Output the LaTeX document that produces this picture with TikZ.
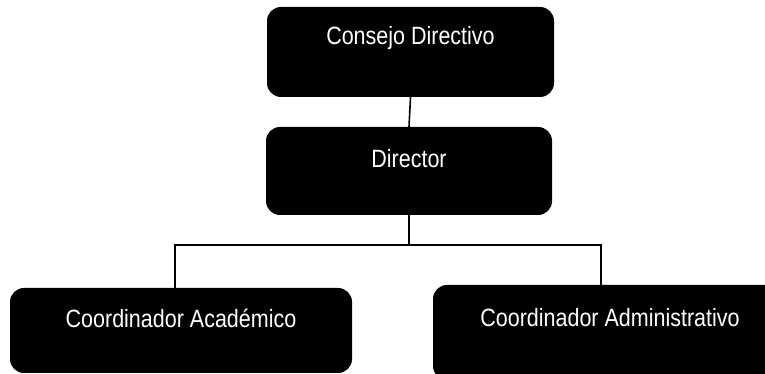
\documentclass[tikz,border=0pt]{standalone}
\usepackage{fontspec}
\setmainfont{Liberation Sans}
\newcommand\narrowtxt[1]{\scalebox{0.86}[1]{#1}}
\begin{document}
\begin{tikzpicture}[x=1pt, y=1pt,
	orgbox/.style={fill=black, text=white, rounded corners=14pt, inner sep=0pt,
		font=\fontsize{25}{29}\selectfont},
	link/.style={draw=black, line width=1.6pt}]
	\useasboundingbox (0,0) rectangle (765,374);
	\clip (0,0) rectangle (765,374);
	% boxes
	\node[orgbox, minimum width=287, text height=38, text depth=52] (cons) at (410.5,322) {\narrowtxt{Consejo Directivo}};
	\node[orgbox, minimum width=286, text height=41, text depth=47] (dir) at (409,203) {\narrowtxt{Director}};
	\node[orgbox, minimum width=342, text height=40, text depth=45] (acad) at (181,43.5) {\narrowtxt{Coordinador Académico}};
	\node[orgbox, minimum width=354, text height=42, text depth=53] (adm) at (610,41.5) {\narrowtxt{Coordinador Administrativo}};
	% lines
	\draw[link] (cons.south) -- (dir.north);
	\coordinate (bus) at (409,129);
	\draw[link] (dir.south) -- (bus);
	\draw[link] ([xshift=-6pt]acad.north) |- (bus) -| ([xshift=-9pt]adm.north);
\end{tikzpicture}
\end{document}
